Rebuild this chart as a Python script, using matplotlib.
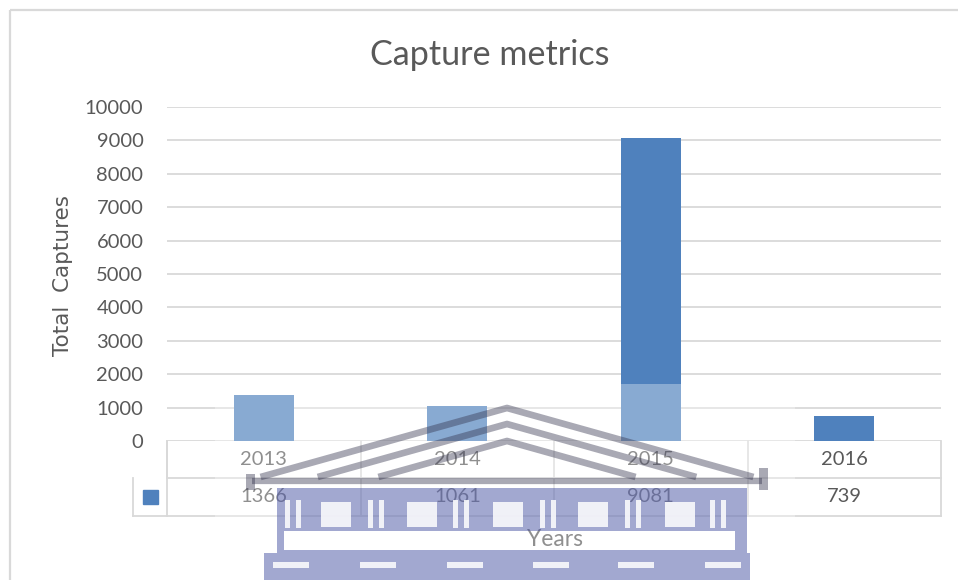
import matplotlib
matplotlib.use("Agg")
import matplotlib.pyplot as plt
import matplotlib.patches as mpatches
import matplotlib.transforms as mtransforms

# capture totals per year
years = ["2013", "2014", "2015", "2016"]
captures = [1366, 1061, 9081, 739]
y_ticks = [0, 1000, 2000, 3000, 4000, 5000, 6000, 7000, 8000, 9000, 10000]

W, H = 958, 580
BAR_COLOR = "#4f81bd"
GRID_COLOR = "#d9d9d9"
TEXT_COLOR = "#595959"
FONT = ["Lato", "DejaVu Sans"]
LABEL_SIZE = 14.5

fig = plt.figure(figsize=(W / 100, H / 100), dpi=100)
fig.patch.set_facecolor("white")

# plot area in pixels: x 167..941, y 107..441
ax = fig.add_axes([167 / W, 1 - 441 / H, (941 - 167) / W, (441 - 107) / H])
ax.set_facecolor("white")

xs = list(range(len(years)))
ax.bar(xs, captures, width=0.31, color=BAR_COLOR, zorder=3)
ax.set_xlim(-0.5, len(years) - 0.5)
ax.set_ylim(0, 10000)
ax.set_yticks(y_ticks)
ax.set_yticklabels([str(t) for t in y_ticks], fontsize=LABEL_SIZE, color=TEXT_COLOR, family=FONT)
ax.tick_params(axis="y", length=0, pad=17)
ax.set_xticks([])
for s in ax.spines.values():
    s.set_visible(False)
ax.grid(axis="y", color=GRID_COLOR, linewidth=1.3, zorder=0)

# data table under the axis (x in data units, y in axes fraction)
tr = ax.get_xaxis_transform()
row1 = -37 / 334
row2 = -75 / 334
key_left = -0.5 - 34 / 193.5
x_right = len(years) - 0.5
line_kw = dict(color=GRID_COLOR, linewidth=1.3, transform=tr, clip_on=False, zorder=1)
ax.plot([-0.5, x_right], [row1, row1], **line_kw)
ax.plot([key_left, x_right], [row2, row2], **line_kw)
ax.plot([-0.5, -0.5], [0, row1], **line_kw)
ax.plot([key_left, key_left], [row1, row2], **line_kw)
for i in range(len(years) + 1):
    ax.plot([i - 0.5, i - 0.5], [0, row2], **line_kw)
for i, (yr, val) in enumerate(zip(years, captures)):
    ax.text(i, row1 / 2, yr, transform=tr, ha="center", va="center",
            fontsize=LABEL_SIZE, color=TEXT_COLOR, family=FONT, clip_on=False)
    ax.text(i, (row1 + row2) / 2, str(val), transform=tr, ha="center", va="center",
            fontsize=LABEL_SIZE, color=TEXT_COLOR, family=FONT, clip_on=False)
key_w, key_h = 15 / 193.5, 14 / 334
ax.add_patch(mpatches.Rectangle(((key_left - 0.5) / 2 - key_w / 2, (row1 + row2) / 2 - key_h / 2),
                                key_w, key_h, transform=tr, color=BAR_COLOR,
                                clip_on=False, zorder=2))

fig.text(555 / W, 1 - 539 / H, "Years", ha="center", va="center",
         fontsize=16.5, color=TEXT_COLOR, family=FONT)
fig.text(63 / W, 1 - 275 / H, "Total  Captures", ha="center", va="center",
         rotation=90, fontsize=15.5, color=TEXT_COLOR, family="DejaVu Sans")
fig.text(490 / W, 1 - 55 / H, "Capture metrics", ha="center", va="center",
         fontsize=24.6, color=TEXT_COLOR, family=FONT)

# pixel transform for the chart frame and the faded crest
px = mtransforms.Affine2D().scale(1 / W, -1 / H).translate(0, 1) + fig.transFigure

fig.add_artist(mpatches.Rectangle((10, 10), 960, 600, transform=px, fill=False,
                                  edgecolor=GRID_COLOR, linewidth=1.6, zorder=1))

fig.add_artist(mpatches.Rectangle((215, 384), 580, 200, transform=px,
                                  facecolor="white", alpha=0.33, linewidth=0, zorder=5))

STROKE = (0.2, 0.2, 0.3)
FILL = (0.28, 0.32, 0.64)


def crest_line(xs_, ys_, lw=4.8, color=STROKE, alpha=0.42):
    fig.add_artist(plt.Line2D(xs_, ys_, transform=px, color=color, alpha=alpha,
                              linewidth=lw, solid_capstyle="butt", zorder=6))


def crest_box(x, y, w, h, color, alpha):
    fig.add_artist(mpatches.Rectangle((x, y), w, h, transform=px, facecolor=color,
                                      alpha=alpha, linewidth=0, zorder=6))


# pediment
slope = 0.28
for apex_y in (408, 424, 441):
    dx = (477 - apex_y) / slope
    crest_line([507 - dx, 507, 507 + dx], [477, apex_y, 477])
crest_line([252, 762], [481, 481], lw=4.5)
crest_box(246, 474, 9, 16, STROKE, 0.42)
crest_box(759, 468, 9, 22, STROKE, 0.42)

# colonnade
crest_box(277, 488, 470, 43, FILL, 0.5)
for wx in (321, 407, 493, 578, 665):
    crest_box(wx, 502, 30, 25, "white", 0.85)
for sx in (285, 368, 453, 540, 625, 710):
    crest_box(sx, 500, 5, 28, "white", 0.85)
    crest_box(sx + 11, 500, 5, 28, "white", 0.85)

# frieze band outline, left open inside
crest_box(277, 531, 7, 22, FILL, 0.5)
crest_box(735, 531, 12, 22, FILL, 0.5)
crest_box(284, 550, 451, 3, FILL, 0.5)

# base
crest_box(264, 553, 486, 30, FILL, 0.5)
for dx_ in (273, 360, 447, 533, 618, 705):
    crest_box(dx_, 562, 36, 6, "white", 0.85)

fig.savefig("out.png", dpi=100, facecolor="white")
